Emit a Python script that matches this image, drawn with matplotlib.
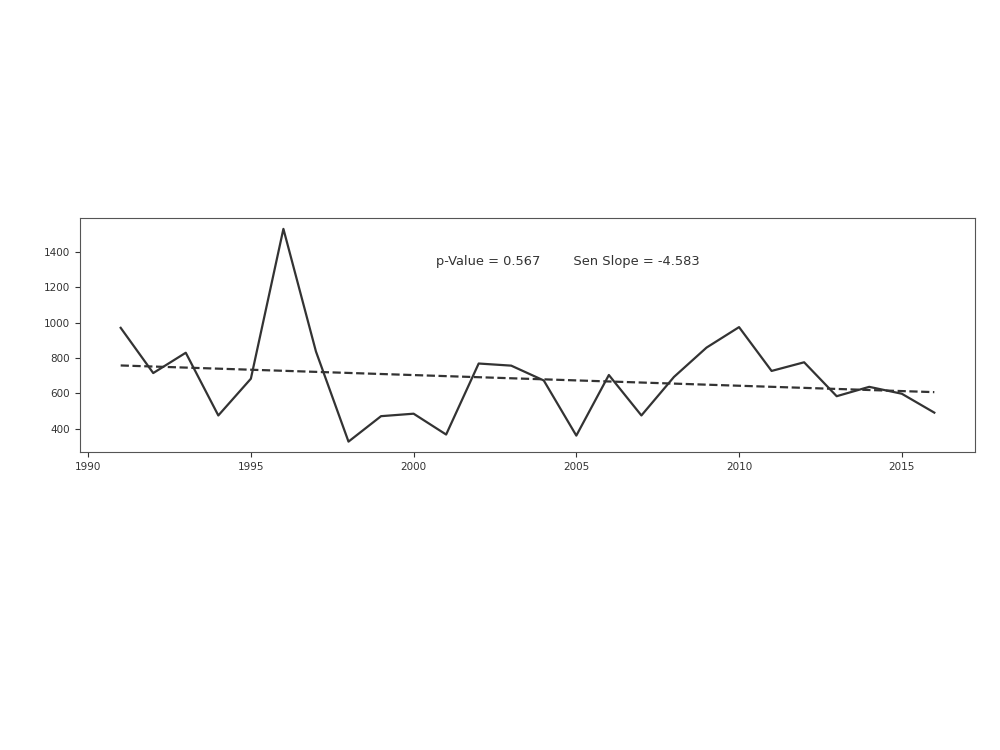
import matplotlib
matplotlib.use("Agg")
import matplotlib.pyplot as plt

years = list(range(1991, 2017))
values = [970, 714, 829, 474, 682, 1530, 836, 326, 470, 484, 366, 768, 756, 672,
          360, 703, 474, 692, 858, 974, 726, 775, 583, 636, 597, 490]
trend_years = [1991, 2016]
trend_values = [757, 606]
annotation = "p-Value = 0.567        Sen Slope = -4.583"

fig = plt.figure(figsize=(10, 7.5), dpi=100)
ax = fig.add_axes([0.08, 0.397, 0.895, 0.312])
ax.plot(years, values, color="#333333", linewidth=1.6)
ax.plot(trend_years, trend_values, color="#333333", linewidth=1.6, linestyle="--")
ax.text(2000.7, 1343, annotation, fontsize=9.4, color="#333333", va="center", ha="left")
ax.set_xticks([1990, 1995, 2000, 2005, 2010, 2015])
ax.set_yticks([400, 600, 800, 1000, 1200, 1400])
ax.tick_params(labelsize=7.5, colors="#333333")
for s in ax.spines.values():
    s.set_color("#555555")
fig.savefig("out.png", dpi=100)
